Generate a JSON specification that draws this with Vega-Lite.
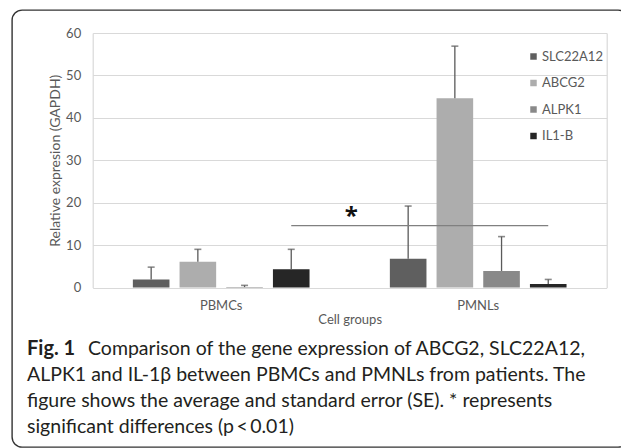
{
  "$schema": "https://vega.github.io/schema/vega-lite/v6.json",
  "width": 616,
  "height": 437,
  "autosize": "none",
  "padding": {"left": 12, "top": 10, "right": -7, "bottom": 1},
  "background": "white",
  "config": {
    "view": {"stroke": "#333333", "strokeWidth": 1.4, "cornerRadius": 10},
    "font": "Lato"
  },
  "datasets": {
    "expr": [
      {"group": "PBMCs", "gene": "SLC22A12", "mean": 1.9, "upper": 4.8},
      {"group": "PBMCs", "gene": "ABCG2", "mean": 6.1, "upper": 9.0},
      {"group": "PBMCs", "gene": "ALPK1", "mean": 0.1, "upper": 0.5},
      {"group": "PBMCs", "gene": "IL1-B", "mean": 4.3, "upper": 9.0},
      {"group": "PMNLs", "gene": "SLC22A12", "mean": 6.8, "upper": 19.2},
      {"group": "PMNLs", "gene": "ABCG2", "mean": 44.6, "upper": 56.9},
      {"group": "PMNLs", "gene": "ALPK1", "mean": 3.9, "upper": 12.0},
      {"group": "PMNLs", "gene": "IL1-B", "mean": 0.8, "upper": 1.9}
    ],
    "sig": [
      {"group": "PBMCs", "gene": "IL1-B", "level": 14.6},
      {"group": "PMNLs", "gene": "IL1-B", "level": 14.6}
    ],
    "star": [
      {"group": "PBMCs", "gene": "IL1-B", "level": 14.6, "label": "*"}
    ],
    "caption": [
      {"line": 1, "part": "fig", "text": "Fig. 1"},
      {"line": 1, "part": "first", "text": "Comparison of the gene expression of ABCG2, SLC22A12,"},
      {"line": 2, "part": "body", "text": "ALPK1 and IL-1β between PBMCs and PMNLs from patients. The"},
      {"line": 3, "part": "body", "text": "figure shows the average and standard error (SE). * represents"},
      {"line": 4, "part": "body", "text": "significant differences (p\u2009<\u20090.01)"}
    ]
  },
  "layer": [
    {
      "encoding": {
        "x": {
          "field": "group",
          "type": "nominal",
          "title": "Cell groups",
          "scale": {"range": [80.7, 594.7], "paddingInner": 0.27, "paddingOuter": 0.135},
          "axis": {
            "orient": "bottom",
            "offset": -159.5,
            "labelAngle": 0,
            "domain": false,
            "ticks": false,
            "tickSize": 0,
            "grid": false,
            "labelPadding": 12,
            "labelFontSize": 13,
            "labelColor": "#595959",
            "labelFont": "Lato",
            "titleFont": "Lato",
            "titleFontSize": 13,
            "titleFontWeight": "normal",
            "titleColor": "#595959",
            "titlePadding": 1
          }
        },
        "xOffset": {
          "field": "gene",
          "type": "nominal",
          "sort": ["SLC22A12", "ABCG2", "ALPK1", "IL1-B"],
          "scale": {"domain": ["SLC22A12", "ABCG2", "ALPK1", "IL1-B"], "paddingInner": 0.216, "paddingOuter": 0.117}
        }
      },
      "layer": [
        {
          "data": {"name": "expr"},
          "mark": {"type": "bar"},
          "encoding": {
            "y": {
              "field": "mean",
              "type": "quantitative",
              "title": "Relative expresion (GAPDH)",
              "scale": {"domain": [0, 60], "range": [277.5, 23], "nice": false},
              "axis": {
                "orient": "left",
                "offset": -80.7,
                "values": [0, 10, 20, 30, 40, 50, 60],
                "grid": true,
                "gridColor": "#d9d9d9",
                "gridWidth": 1.2,
                "domain": true,
                "domainColor": "#d9d9d9",
                "domainWidth": 1.2,
                "ticks": false,
                "tickSize": 0,
                "labelPadding": 12,
                "labelFontSize": 13,
                "labelColor": "#595959",
                "labelFont": "Lato",
                "titleFont": "Lato",
                "titleFontSize": 14,
                "titleFontWeight": "normal",
                "titleColor": "#595959",
                "titlePadding": 3
              }
            },
            "color": {
              "field": "gene",
              "type": "nominal",
              "sort": ["SLC22A12", "ABCG2", "ALPK1", "IL1-B"],
              "scale": {
                "domain": ["SLC22A12", "ABCG2", "ALPK1", "IL1-B"],
                "range": ["#5f5f5f", "#adadad", "#898989", "#262626"]
              },
              "legend": {
                "orient": "none",
                "legendX": 515,
                "legendY": 40,
                "title": null,
                "symbolType": "square",
                "symbolSize": 42,
                "symbolStrokeWidth": 0,
                "labelFontSize": 13,
                "labelColor": "#595959",
                "labelFont": "Lato",
                "labelOffset": 2,
                "rowPadding": 12.5,
                "padding": 0
              }
            }
          }
        },
        {
          "data": {"name": "expr"},
          "mark": {"type": "rule", "color": "#5a5a5a", "strokeWidth": 1.3},
          "encoding": {
            "y": {"field": "mean", "type": "quantitative", "axis": null},
            "y2": {"field": "upper"}
          }
        },
        {
          "data": {"name": "expr"},
          "mark": {"type": "tick", "color": "#5a5a5a", "thickness": 1.6, "size": 7},
          "encoding": {
            "y": {"field": "upper", "type": "quantitative", "axis": null}
          }
        },
        {
          "data": {"name": "sig"},
          "mark": {"type": "line", "color": "#808080", "strokeWidth": 1.2},
          "encoding": {
            "y": {
              "field": "level",
              "type": "quantitative",
              "axis": {
                "orient": "right",
                "offset": -21.3,
                "labels": false,
                "ticks": false,
                "grid": false,
                "title": null,
                "domain": true,
                "domainColor": "#d9d9d9",
                "domainWidth": 1.2
              }
            }
          }
        },
        {
          "data": {"name": "star"},
          "mark": {"type": "text", "fontSize": 24, "fontWeight": "bold", "font": "Open Sans", "color": "#111111", "baseline": "alphabetic", "dx": 60, "dy": -2},
          "encoding": {
            "y": {"field": "level", "type": "quantitative", "axis": null},
            "text": {"field": "label"}
          }
        }
      ],
      "resolve": {"axis": {"y": "independent"}}
    },
    {
      "data": {"name": "caption"},
      "encoding": {
        "y": {
          "field": "line",
          "type": "ordinal",
          "scale": {"type": "point", "domain": [1, 2, 3, 4], "range": [345, 423], "padding": 0},
          "axis": null
        },
        "x": {"datum": 0, "type": "quantitative", "scale": {"domain": [0, 1], "range": [15, 600]}, "axis": null},
        "text": {"field": "text"}
      },
      "layer": [
        {
          "transform": [{"filter": "datum.part == 'fig'"}],
          "mark": {"type": "text", "align": "left", "baseline": "alphabetic", "fontSize": 20, "fontWeight": "bold", "color": "#231f20", "font": "Lato"}
        },
        {
          "transform": [{"filter": "datum.part == 'first'"}],
          "mark": {"type": "text", "align": "left", "baseline": "alphabetic", "fontSize": 19.5, "color": "#231f20", "font": "Lato", "dx": 61}
        },
        {
          "transform": [{"filter": "datum.part == 'body'"}],
          "mark": {"type": "text", "align": "left", "baseline": "alphabetic", "fontSize": 19.5, "color": "#231f20", "font": "Lato"}
        }
      ]
    }
  ],
  "resolve": {"scale": {"x": "independent", "y": "independent"}}
}
